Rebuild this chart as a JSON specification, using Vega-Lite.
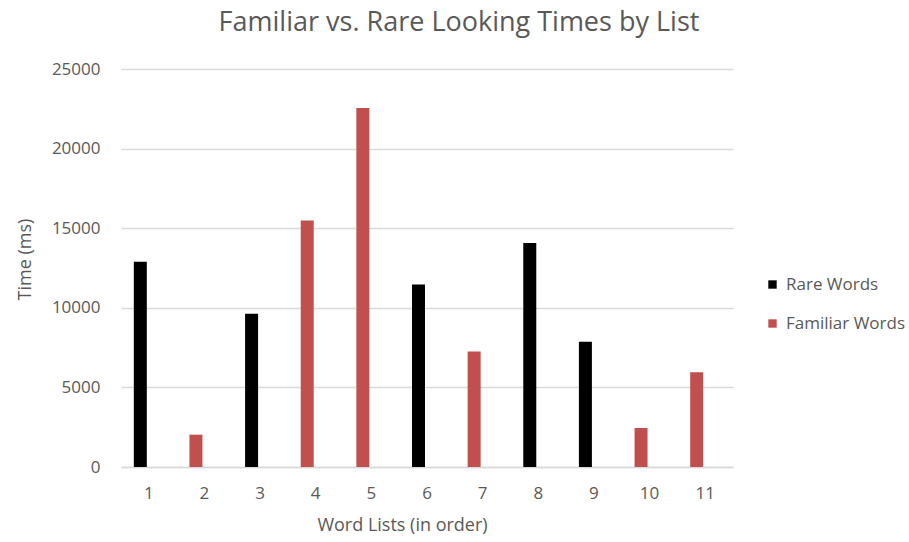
{
  "$schema": "https://vega.github.io/schema/vega-lite/v6.json",
  "width": 612,
  "height": 398,
  "autosize": {"type": "none"},
  "padding": {"left": 121, "top": 69, "right": 176, "bottom": 75},
  "background": "#ffffff",
  "view": {"stroke": null},
  "title": {
    "text": "Familiar vs. Rare Looking Times by List",
    "font": "Open Sans",
    "fontSize": 27,
    "fontWeight": "normal",
    "color": "#595959",
    "anchor": "middle",
    "frame": "group",
    "baseline": "alphabetic",
    "offset": 2,
    "dx": 32
  },
  "data": {
    "values": [
      {"list": 1, "series": "Rare Words", "time": 12900},
      {"list": 2, "series": "Familiar Words", "time": 2030},
      {"list": 3, "series": "Rare Words", "time": 9620},
      {"list": 4, "series": "Familiar Words", "time": 15480},
      {"list": 5, "series": "Familiar Words", "time": 22550},
      {"list": 6, "series": "Rare Words", "time": 11470},
      {"list": 7, "series": "Familiar Words", "time": 7260},
      {"list": 8, "series": "Rare Words", "time": 14070},
      {"list": 9, "series": "Rare Words", "time": 7860},
      {"list": 10, "series": "Familiar Words", "time": 2450},
      {"list": 11, "series": "Familiar Words", "time": 5950}
    ]
  },
  "mark": {"type": "bar", "size": 13, "xOffset": -8.5},
  "encoding": {
    "x": {
      "field": "list",
      "type": "ordinal",
      "scale": {"paddingInner": 0, "paddingOuter": 0},
      "axis": {
        "title": "Word Lists (in order)",
        "labelAngle": 0,
        "labelFont": "Open Sans",
        "labelFontSize": 17,
        "labelColor": "#595959",
        "labelPadding": 18,
        "ticks": false,
        "domainColor": "#d9d9d9",
        "domainWidth": 1.5,
        "titleFont": "Open Sans",
        "titleFontSize": 18,
        "titleFontWeight": "normal",
        "titleColor": "#595959",
        "titleX": 281,
        "titleY": 58,
        "titleBaseline": "middle"
      }
    },
    "y": {
      "field": "time",
      "type": "quantitative",
      "scale": {"domain": [0, 25000], "nice": false},
      "axis": {
        "title": "Time (ms)",
        "values": [0, 5000, 10000, 15000, 20000, 25000],
        "format": "d",
        "labelFont": "Open Sans",
        "labelFontSize": 17,
        "labelColor": "#595959",
        "labelPadding": 21,
        "ticks": false,
        "domain": false,
        "gridColor": "#d9d9d9",
        "gridWidth": 1.5,
        "titleFont": "Open Sans",
        "titleFontSize": 18,
        "titleFontWeight": "normal",
        "titleColor": "#595959",
        "titleAngle": -90,
        "titleX": -96,
        "titleY": 190,
        "titleBaseline": "middle",
        "titleAlign": "center"
      }
    },
    "color": {
      "field": "series",
      "type": "nominal",
      "scale": {"domain": ["Rare Words", "Familiar Words"], "range": ["#000000", "#C0504D"]},
      "legend": {
        "title": null,
        "orient": "none",
        "legendX": 643,
        "legendY": 207,
        "symbolType": "square",
        "symbolSize": 70,
        "symbolStrokeWidth": 0,
        "labelFont": "Open Sans",
        "labelFontSize": 17,
        "labelColor": "#595959",
        "labelOffset": 5,
        "rowPadding": 21
      }
    }
  }
}
